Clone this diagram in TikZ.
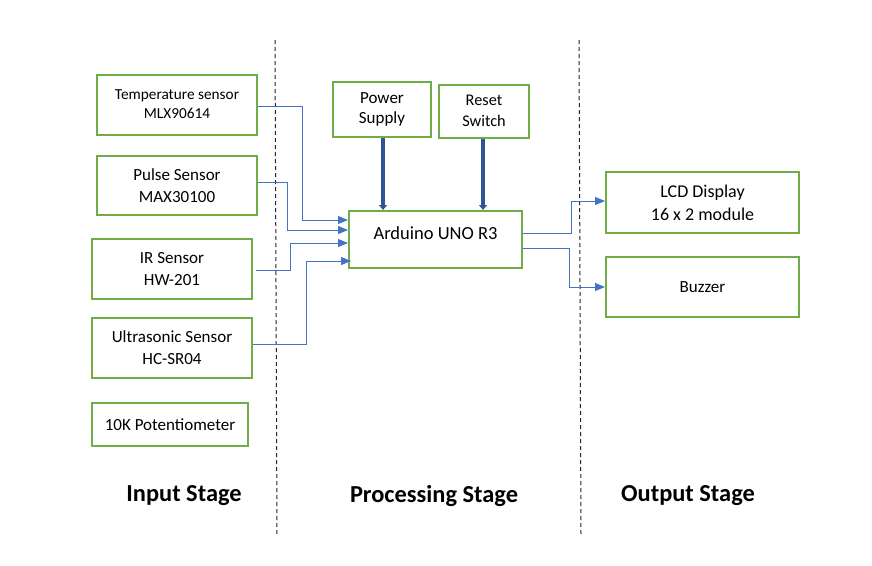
\documentclass[tikz,border=0pt]{standalone}
\usepackage{fontspec}
\setmainfont{Carlito}
\usetikzlibrary{arrows.meta}
\definecolor{boxgreen}{HTML}{70AD47}
\definecolor{connblue}{HTML}{4472C4}
\definecolor{thickblue}{HTML}{2F5597}
\tikzset{
  box/.style={draw=boxgreen, line width=2pt, fill=white, inner sep=0pt, align=center, font=\fontsize{17}{22}\selectfont},
  smalltext/.style={font=\fontsize{15.3}{19}\selectfont},
  bigtext/.style={font=\fontsize{18}{23}\selectfont},
  conn/.style={draw=connblue, line width=1pt, -{Triangle[length=10pt,width=8pt]}},
  thick/.style={draw=thickblue, line width=3.5pt, -{Triangle[length=5pt,width=8pt]}},
  divider/.style={draw=black!85, line width=1pt, dash pattern=on 4pt off 3pt},
  stage/.style={font=\fontsize{24.4}{28}\selectfont\bfseries}
}
\begin{document}
\begin{tikzpicture}[x=1pt,y=-1pt]
\useasboundingbox (0,0) rectangle (872,565);
% dividers
\coordinate (d1t) at (275,40); \coordinate (d1b) at (277,535);
\coordinate (d2t) at (579,40); \coordinate (d2b) at (581,535);
\draw[divider] (d1t) -- (d1b);
\draw[divider] (d2t) -- (d2b);
% input boxes
\node[box, smalltext, minimum width=160pt, minimum height=60pt] (temp) at (177,104.5) {Temperature sensor\\MLX90614};
\node[box, minimum width=160pt, minimum height=59pt] (pulse) at (177,185.5) {Pulse Sensor\\MAX30100};
\node[box, minimum width=160pt, minimum height=60pt] (ir) at (172,269) {IR Sensor\\HW-201};
\node[box, minimum width=160pt, minimum height=60pt] (ultra) at (172,348) {Ultrasonic Sensor\\HC-SR04};
\node[box, minimum width=156pt, minimum height=43pt] (pot) at (170,424.5) {10K Potentiometer};
% processing
\node[box, minimum width=98pt, minimum height=55pt, font=\fontsize{17}{20}\selectfont] (power) at (382,109.5) {Power\\Supply};
\node[box, minimum width=90pt, minimum height=53pt, font=\fontsize{16.3}{21}\selectfont] (reset) at (484,111) {Reset\\Switch};
\node[box, minimum width=173pt, minimum height=57pt, text depth=13pt, font=\fontsize{18.5}{22}\selectfont] (ard) at (435.5,239.5) {Arduino UNO R3};
% output
\node[box, bigtext, minimum width=193pt, minimum height=61pt] (lcd) at (702.5,202.5) {LCD Display\\16 x 2 module};
\node[box, minimum width=193pt, minimum height=60pt] (buzz) at (702.5,287) {Buzzer};
% thick arrows
\draw[thick] (power.south -| 383,0) -- (ard.north -| 383,0);
\draw[thick] (reset.south -| 483,0) -- (ard.north -| 483,0);
% input connectors
\coordinate (c1) at (302,220);
\coordinate (c2) at (287,230);
\coordinate (c3) at (290,243);
\coordinate (c4) at (306,261);
\draw[conn] (temp.east |- 0,106) -| (c1) -- (ard.west |- c1);
\draw[conn] (pulse.east |- 0,182) -| (c2) -- (ard.west |- c2);
\draw[conn] (ir.east |- 0,270) ++(3,0) -| (c3) -- (ard.west |- c3);
\draw[conn] (ultra.east |- 0,344) -| (c4) -- ([xshift=3pt]ard.west |- c4);
% output connectors
\coordinate (o1) at (571,233);
\coordinate (o2) at (569,248);
\draw[conn] (ard.east |- o1) -- (o1) |- (lcd.west |- 0,201);
\draw[conn] (ard.east |- o2) -- (o2) |- (buzz.west |- 0,287);
% stage labels
\node[stage] (in) at (184,496) {Input Stage};
\node[stage] (proc) at (434,496) {Processing Stage};
\node[stage] (out) at (688,496) {Output Stage};
\end{tikzpicture}
\end{document}
